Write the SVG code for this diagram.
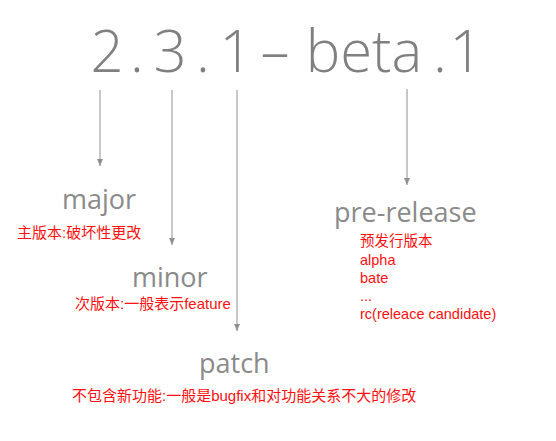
<svg xmlns="http://www.w3.org/2000/svg" width="556" height="441" viewBox="0 0 556 441">
<style>
.t{font-family:"Open Sans","Noto Sans",sans-serif;font-weight:300;fill:#808080;font-size:58px;text-anchor:middle}
.lbl{font-family:"Open Sans","Noto Sans",sans-serif;font-weight:400;fill:#8a8a8a;font-size:27px}
.r{font-family:"Liberation Sans","Noto Sans CJK SC",sans-serif;fill:#ff1010;font-size:15px}
.rl{font-family:"Liberation Sans","Noto Sans CJK SC",sans-serif;fill:#ff1010;font-size:14.5px}
.c{stroke:#909090;stroke-width:1;fill:none;marker-end:url(#ah)}
</style>
<defs>
<marker id="ah" markerWidth="8" markerHeight="8" refX="7" refY="4" orient="auto" markerUnits="userSpaceOnUse">
<path d="M0,1 L7,4 L0,7 Z" fill="#909090"/>
</marker>
</defs>
<rect width="556" height="441" fill="#fff"/>
<g id="version">
<text class="t" x="107" y="72">2</text>
<text class="t" x="137" y="72">.</text>
<text class="t" x="170" y="72">3</text>
<text class="t" x="203" y="72">.</text>
<text class="t" x="236" y="72">1</text>
<text class="t" x="275" y="72">–</text>
<text class="t" x="364" y="72">beta</text>
<text class="t" x="440" y="72">.</text>
<text class="t" x="466" y="72">1</text>
</g>
<g id="connectors">
<line class="c" x1="100" y1="90" x2="100" y2="166"/>
<line class="c" x1="172" y1="90" x2="172" y2="245"/>
<line class="c" x1="237" y1="90" x2="237" y2="331"/>
<line class="c" x1="407" y1="89" x2="407" y2="185"/>
</g>
<g id="major">
<text class="lbl" x="62" y="209">major</text>
<text class="r" x="17" y="238">主版本:破坏性更改</text>
</g>
<g id="minor">
<text class="lbl" x="132" y="287">minor</text>
<text class="r" x="75" y="309">次版本:一般表示feature</text>
</g>
<g id="patch">
<text class="lbl" x="199" y="373">patch</text>
<text class="r" x="72" y="401">不包含新功能:一般是bugfix和对功能关系不大的修改</text>
</g>
<g id="prerelease">
<text class="lbl" x="334" y="222">pre-release</text>
<text class="rl" x="360" y="246">预发行版本</text>
<text class="rl" x="360" y="265">alpha</text>
<text class="rl" x="360" y="283">bate</text>
<text class="rl" x="360" y="301">...</text>
<text class="rl" x="360" y="319">rc(releace candidate)</text>
</g>
</svg>
